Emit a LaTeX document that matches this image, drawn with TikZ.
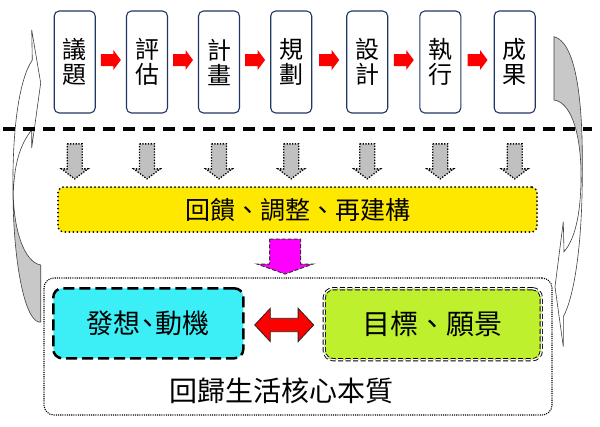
\documentclass[tikz,border=0pt]{standalone}
\usepackage{fontspec}
\setmainfont{Noto Sans CJK TC}
\usetikzlibrary{calc}
\definecolor{navy}{RGB}{31,56,100}
\definecolor{arrred}{RGB}{255,0,0}
\definecolor{arrgray}{RGB}{192,192,192}
\definecolor{curvegray}{RGB}{200,200,200}
\definecolor{fbyellow}{RGB}{255,232,0}
\definecolor{magentaA}{RGB}{255,0,255}
\definecolor{cyanbox}{RGB}{60,238,245}
\definecolor{greenbox}{RGB}{190,240,45}
\tikzset{
  stepbox/.style={draw=navy, line width=1.1pt, rounded corners=5pt, minimum width=41pt,
    minimum height=102pt, inner sep=0pt, align=center, fill=white,
    font=\fontsize{24}{25}\selectfont},
  redarr/.pic={\fill[arrred] (-10,-6) -- (2.5,-6) -- (2.5,-10) -- (10,0) -- (2.5,10) -- (2.5,6) -- (-10,6) -- cycle;},
  grayarr/.pic={\draw[fill=arrgray, line width=1.3pt, dash pattern=on 1.3pt off 1.5pt]
    (-7.5,0) -- (7.5,0) -- (7.5,25) -- (13.3,25) -- (0,35) -- (-13.3,25) -- (-7.5,25) -- cycle;},
  magarr/.pic={\draw[fill=magentaA, draw=black!80, line width=1pt, dash pattern=on 4pt off 2pt]
    (-15.5,0) -- (15.5,0) -- (15.5,25) -- (28,25) -- (0,35) -- (-28,25) -- (-15.5,25) -- cycle;},
  dblarr/.pic={\draw[fill=arrred, draw=black!85, line width=0.8pt]
    (-29.5,0) -- (-13.9,-16.7) -- (-13.9,-6.7) -- (13.9,-6.7) -- (13.9,-16.7) -- (29.5,0)
    -- (13.9,16.7) -- (13.9,6.7) -- (-13.9,6.7) -- (-13.9,16.7) -- cycle;},
  curveline/.style={draw=black!75, line width=0.6pt},
  sepline/.style={line width=4pt, dash pattern=on 12pt off 8pt},
  fbbox/.style={draw, fill=fbyellow, rounded corners=6pt, line width=2pt, line cap=round,
    dash pattern=on 0pt off 4pt, minimum width=479pt, minimum height=45pt,
    font=\fontsize{25}{26}\selectfont},
  corebox/.style={draw, rounded corners=10pt, line width=1.1pt, dash pattern=on 1.1pt off 1.1pt,
    minimum width=508pt, minimum height=137pt},
  cybox/.style={draw, fill=cyanbox, rounded corners=9pt, line width=2.5pt,
    dash pattern=on 11pt off 5pt, minimum width=190pt, minimum height=70pt,
    font=\fontsize{27}{28}\selectfont},
  grbox/.style={draw, fill=greenbox, rounded corners=9pt, line width=0.9pt,
    double=white, double distance=1.4pt, dash pattern=on 5pt off 2.5pt,
    minimum width=217pt, minimum height=71pt, font=\fontsize{28}{29}\selectfont},
  coretext/.style={font=\fontsize{28}{29}\selectfont, inner sep=0pt}
}
\begin{document}
\begin{tikzpicture}[x=1pt,y=-1pt]
\useasboundingbox (0,0) rectangle (600,426);
\fill[white] (0,0) rectangle (600,426);

% left curved arrow
\fill[curvegray] (13,195) .. controls (13.5,260) and (24,318) .. (38.5,322) -- (40.7,322)
  -- (40.7,265) .. controls (24,262) and (14,230) .. (13.3,195) -- cycle;
\draw[curveline] (32.3,60) .. controls (20,78) and (12,125) .. (13,195)
  .. controls (13.5,260) and (24,318) .. (38.5,322) -- (40.7,322) -- (40.7,265)
  .. controls (24,262) and (14,230) .. (13.3,195)
  .. controls (14,160) and (22,142) .. (31.7,130) -- (31.7,148) -- (40.7,83) -- (31.7,30) -- cycle;

% right curved arrow
\fill[curvegray] (554,36.7) .. controls (575,42) and (583,95) .. (582.3,170)
  -- (581,170) .. controls (580,130) and (570,102) .. (554,100) -- cycle;
\draw[curveline] (564,251.7) .. controls (576,238) and (581.5,210) .. (581,170)
  .. controls (580,130) and (570,102) .. (554,100) -- (554,36.7)
  .. controls (575,42) and (583,95) .. (582.3,170)
  .. controls (582.5,240) and (575,295) .. (563.3,316.7) -- (563.3,346.7) -- (555,286.7)
  -- (563.3,221.7) -- cycle;

% step boxes
\node[stepbox] (b1) at (74.7,62) {議\\題};
\node[stepbox] (b2) at (147,62) {評\\估};
\node[stepbox] (b3) at (219,62) {計\\畫};
\node[stepbox] (b4) at (291.2,62) {規\\劃};
\node[stepbox] (b5) at (367.2,62) {設\\計};
\node[stepbox] (b6) at (440.3,62) {執\\行};
\node[stepbox] (b7) at (514.7,62) {成\\果};

\foreach \a/\b in {b1/b2,b2/b3,b3/b4,b4/b5,b5/b6,b6/b7}
  \pic at ($(\a.east)!.5!(\b.west)+(0,-2)$) {redarr};

% separator
\coordinate (dl) at (3,128.5);
\coordinate (dr) at (592,128.5);
\draw[sepline] (dl) -- (dr);

% gray down arrows
\foreach \a in {b1,b2,b3,b4,b5,b6,b7}
  \pic at ($(\a.south)+(0,30.3)$) {grayarr};

% feedback box
\node[fbbox] (fb) at (297.5,209.5) {回饋、調整、再建構\hspace{12pt}};

% magenta arrow
\pic at ($(fb.south)+(-12.5,6)$) {magarr};

% core box
\node[corebox] (core) at (298,346.5) {};
\node[cybox] (cy) at (148.3,323.3) {發想\kern-6pt、\kern-6pt動機};
\node[grbox] (gr) at (432.8,324.2) {目標、願景};
\pic at ($(cy.east)!.5!(gr.west)+(0,1.2)$) {dblarr};
\node[coretext] (ct) at (281.7,391) {回歸生活核心本質};
\end{tikzpicture}
\end{document}
